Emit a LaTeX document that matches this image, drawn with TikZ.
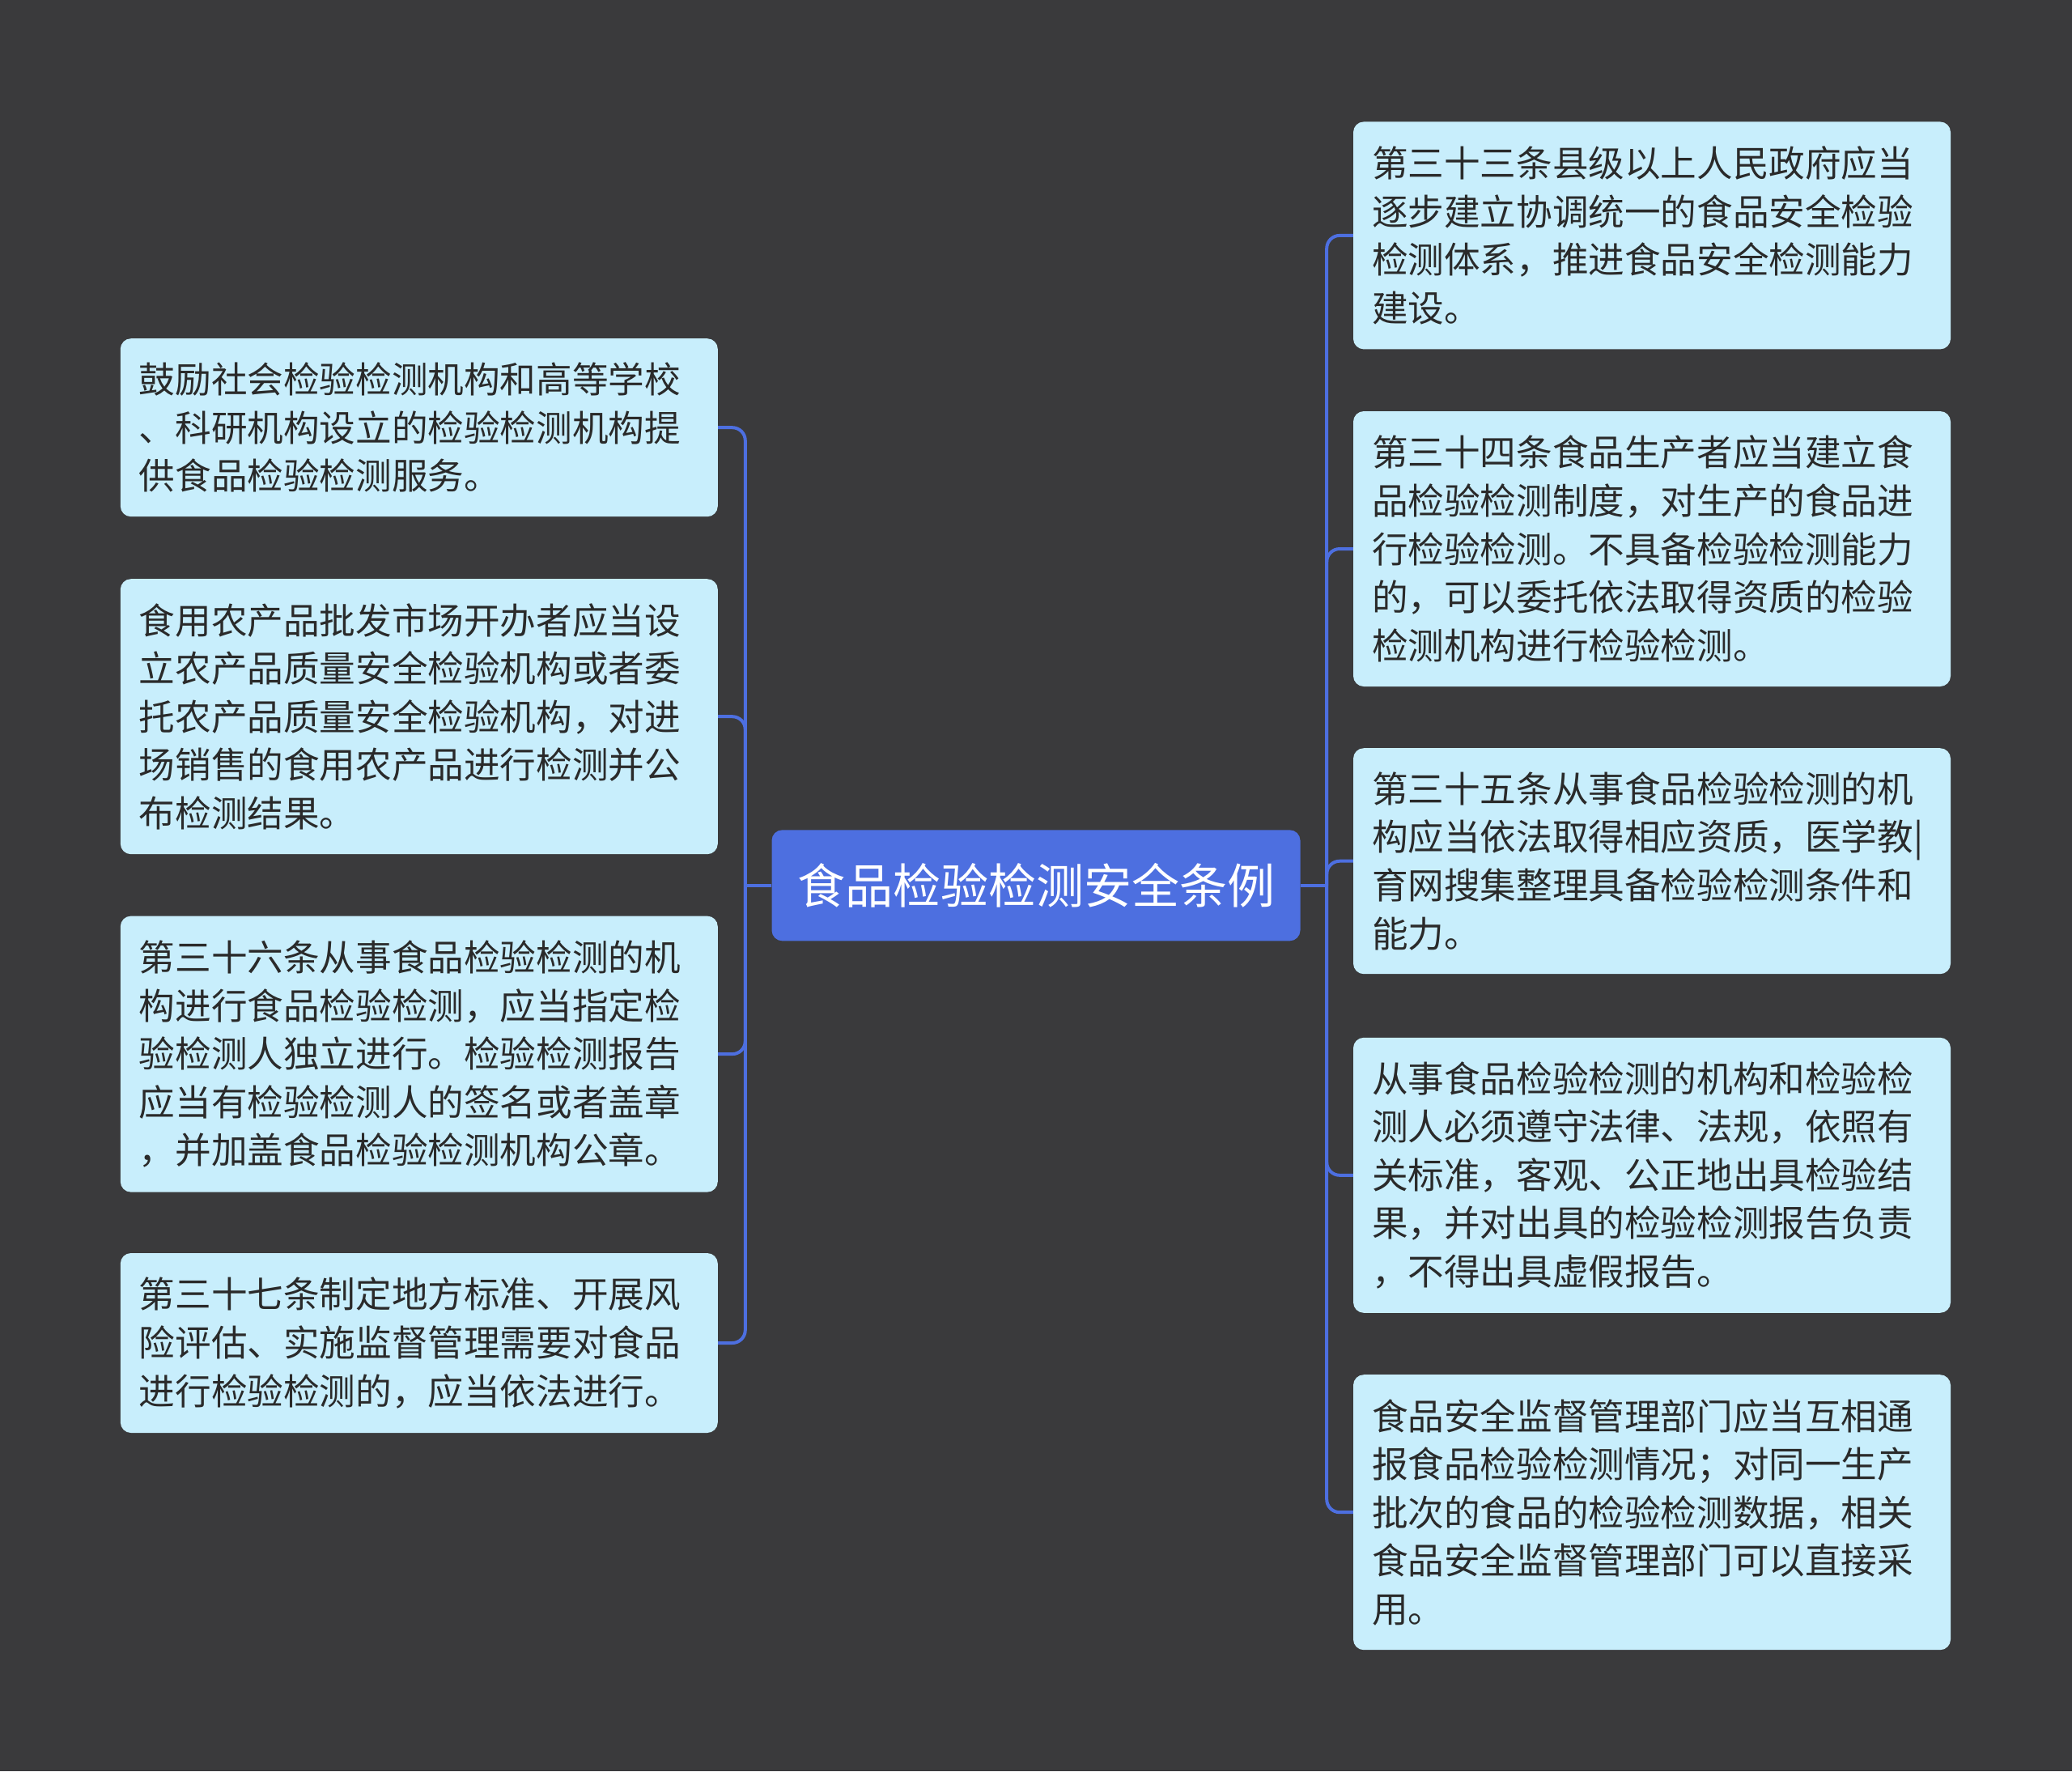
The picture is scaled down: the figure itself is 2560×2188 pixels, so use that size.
\documentclass[tikz,border=0pt]{standalone}
\usepackage{fontspec}
\setmainfont{Noto Sans CJK SC}
\definecolor{bgc}{HTML}{3A3A3C}
\definecolor{leafc}{HTML}{C8EEFC}
\definecolor{centc}{HTML}{4D6FE0}
\definecolor{linkc}{HTML}{4D6FE0}
\definecolor{txtc}{HTML}{2A2A2A}
\newcommand\leaffont{\fontsize{44.6pt}{59.6pt}\selectfont}
\newcommand\centfont{\fontsize{59pt}{70pt}\selectfont}
\tikzset{
  leaf/.style={fill=leafc, rounded corners=13pt, anchor=north west,
    text width=692pt, inner xsep=23pt, inner ysep=8pt, align=left,
    font=\leaffont, text=txtc, minimum height=#1},
  centbox/.style={fill=centc, rounded corners=13pt, minimum width=653pt,
    minimum height=137pt, font=\centfont, text=white, inner sep=0pt},
  link/.style={draw=linkc, line width=4pt},
}
\begin{document}
\begin{tikzpicture}[x=1pt,y=-1pt]
\fill[bgc] (0,0) rectangle (2560,2188);
\useasboundingbox (0,0) rectangle (2560,2188);

\node[centbox] (c) at (1280,1093.8) {食品检验检测安全条例};

\node[leaf=220pt] (l1) at (148.6,418) {鼓励社会检验检测机构和高等学校\\、科研机构设立的检验检测机构提\\供食品检验检测服务。};
\node[leaf=340pt] (l2) at (148.6,715) {食用农产品批发市场开办者应当设\\立农产品质量安全检验机构或者委\\托农产品质量安全检验机构，对进\\场销售的食用农产品进行检测并公\\布检测结果。};
\node[leaf=341pt] (l3) at (148.6,1131.4) {第三十六条从事食品检验检测的机\\构进行食品检验检测，应当指定检\\验检测人独立进行。检验检测报告\\应当有检验检测人的签名或者盖章\\，并加盖食品检验检测机构公章。};
\node[leaf=222pt] (l4) at (148.6,1547.8) {第三十七条制定地方标准、开展风\\险评估、实施监督管理需要对食品\\进行检验检测的，应当依法进行。};

\node[leaf=281pt] (r1) at (1671.8,150.2) {第三十三条县级以上人民政府应当\\逐步建立协调统一的食品安全检验\\检测体系，推进食品安全检测能力\\建设。};
\node[leaf=340pt] (r2) at (1671.8,507.8) {第三十四条食品生产者应当建立食\\品检验检测制度，对生产的食品进\\行检验检测。不具备检验检测能力\\的，可以委托依法取得资质的检验\\检测机构进行检验检测。};
\node[leaf=279pt] (r3) at (1671.8,924) {第三十五条从事食品检验检测的机\\构应当依法取得相应资质，医学教|\\育网搜集整理具备检验检测条件和\\能力。};
\node[leaf=340pt] (r4) at (1671.8,1281.6) {从事食品检验检测的机构和检验检\\测人必须遵守法律、法规，依照有\\关标准，客观、公正地出具检验结\\果，并对出具的检验检测报告负责\\，不得出具虚假报告。};
\node[leaf=340pt] (r5) at (1671.8,1698) {食品安全监督管理部门应当互相通\\报食品检验检测情况；对同一生产\\批次的食品的检验检测数据，相关\\食品安全监督管理部门可以直接采\\用。};

\coordinate (lj) at (920.8,1093.8);
\coordinate (rj) at (1639.2,1093.8);
\draw[link] (c.west) -- (lj);
\draw[link] (c.east) -- (rj);
\foreach \n in {l1,l2,l3,l4}
  \draw[link,rounded corners=16pt] (lj) |- (\n.east);
\foreach \n in {r1,r2,r3,r4,r5}
  \draw[link,rounded corners=16pt] (rj) |- (\n.west);
\end{tikzpicture}
\end{document}
